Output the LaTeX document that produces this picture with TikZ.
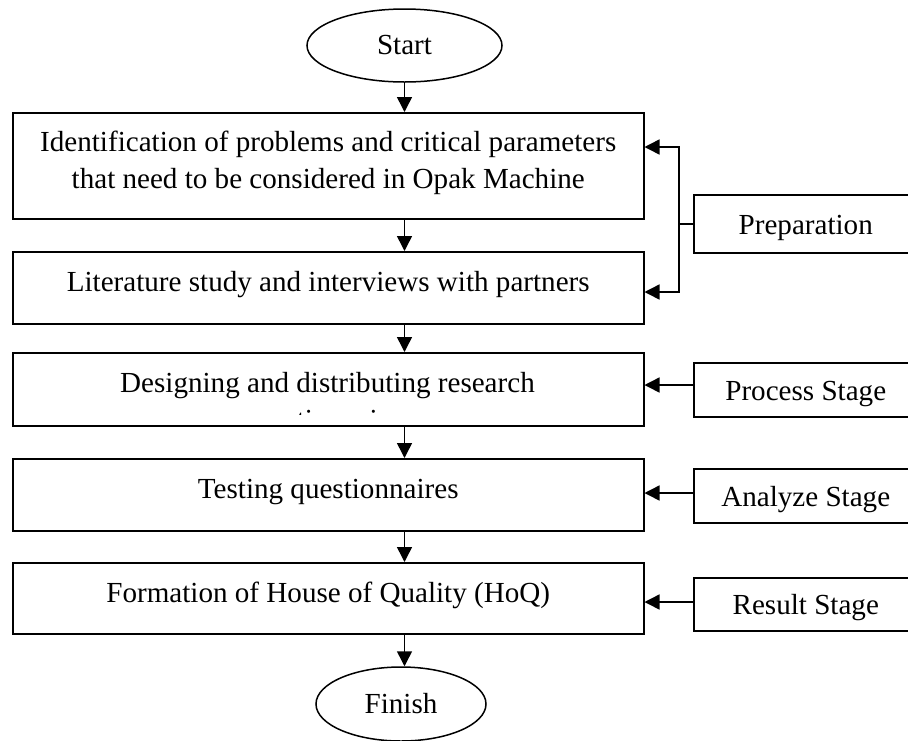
\documentclass[tikz,border=0pt]{standalone}
\usepackage{fontspec}
\setmainfont{Liberation Serif}
\usetikzlibrary{arrows.meta,shapes.geometric}
\begin{document}
\begin{tikzpicture}[x=1pt,y=1pt,
  line width=1.5pt,
  txt/.style={font=\fontsize{29.1}{37}\selectfont},
  box/.style={draw, rectangle, anchor=north west, inner sep=0pt, align=center, txt, minimum width=631pt, text depth=12pt},
  stage/.style={draw, rectangle, anchor=north west, inner sep=0pt, txt, minimum width=224pt, text height=27pt},
  oval/.style={draw, ellipse, inner sep=0pt, txt},
  arr/.style={-{Triangle[width=15pt,length=15pt]}, line join=miter}]
\useasboundingbox (0,0) rectangle (908,-740);
\clip (0,0) rectangle (908,-740);
% main flow
\node[oval, minimum width=195pt, minimum height=73pt] (start) at (404.5,-45.5) {Start};
\node[box, minimum height=106pt] (b1) at (12,-112) {Identification of problems and critical parameters\\that need to be considered in Opak Machine};
\node[box, minimum height=72pt] (b2) at (12,-251) {Literature study and interviews with partners};
\node[box, minimum height=73pt] (b3) at (12,-352) {};
\node[txt, anchor=base] (b3t) at (327.5,-392) {Designing and distributing research};
\begin{scope}
  \clip (12,-352) rectangle (643,-414);
  \node[txt, anchor=base] (b3q) at (327.5,-429) {questionnaires};
\end{scope}
\node[box, minimum height=72pt] (b4) at (12,-458) {Testing questionnaires};
\node[box, minimum height=71pt] (b5) at (12,-562) {Formation of House of Quality (HoQ)};
\node[oval, minimum width=170pt, minimum height=74pt] (fin) at (401,-704) {Finish};
% stage boxes
\node[stage, minimum height=58pt] (prep) at (693,-194) {Preparation};
\node[stage, minimum height=54pt] (proc) at (693,-362) {Process Stage};
\node[stage, minimum height=54pt] (anal) at (693,-468) {Analyze Stage};
\node[stage, minimum height=53pt] (res) at (693,-577) {Result Stage};
% vertical arrows
\draw[arr] (start.south) -- (start.south |- b1.north);
\draw[arr] (start.south |- b1.south) -- (start.south |- b2.north);
\draw[arr] (start.south |- b2.south) -- (start.south |- b3.north);
\draw[arr] (start.south |- b3.south) -- (start.south |- b4.north);
\draw[arr] (start.south |- b4.south) -- (start.south |- b5.north);
\draw[arr] (start.south |- b5.south) -- (start.south |- fin.north);
% preparation bracket
\coordinate (jt) at (679,-147);
\coordinate (jb) at (679,-292);
\draw (prep.west) -- (jt |- prep.west);
\draw[arr] (jt |- prep.west) -- (jt) -- (jt -| b1.east);
\draw[arr] (jt |- prep.west) -- (jb) -- (jb -| b2.east);
% stage arrows
\draw[arr] (proc.west |- 0,-385) -- (b3.east |- 0,-385);
\draw[arr] (anal.west |- 0,-493) -- (b4.east |- 0,-493);
\draw[arr] (res.west |- 0,-602) -- (b5.east |- 0,-602);
\end{tikzpicture}
\end{document}
